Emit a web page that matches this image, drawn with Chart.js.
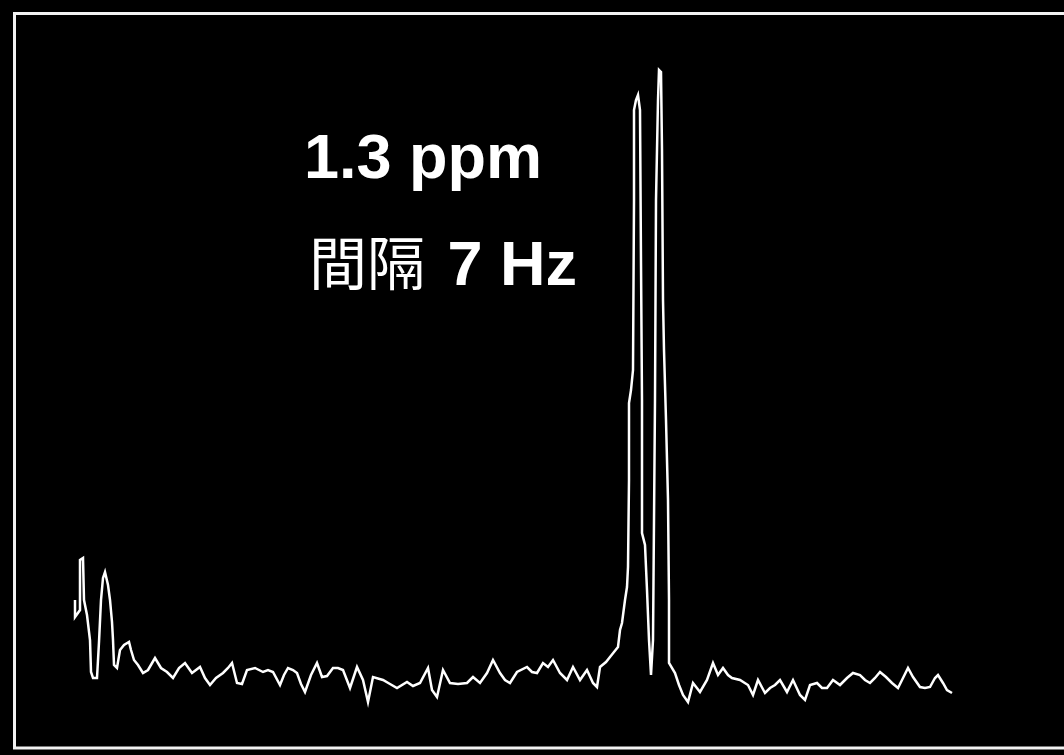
<!DOCTYPE html>
<html lang="zh-Hant">
<head>
    <meta charset="UTF-8">
    <title>1.3 ppm doublet</title>
    <script src="https://cdn.jsdelivr.net/npm/chart.js"></script>
    <style>
        html, body { margin: 0; padding: 0; background: #000; }
        .wrap { position: relative; width: 1064px; height: 755px; overflow: hidden; }
        canvas { position: absolute; left: 0; top: 0; }
        .label {
            position: absolute;
            color: #fff;
            font-family: "Liberation Sans", Arial, sans-serif;
            font-weight: bold;
            font-size: 63px;
            line-height: 63px;
            white-space: nowrap;
        }
        .cjk {
            font-family: "Noto Sans CJK TC", "Noto Sans CJK SC", sans-serif;
            font-weight: normal;
            font-size: 58px;
            line-height: 0;
            margin-right: 5px;
        }
    </style>
</head>
<body>
    <div class="wrap">
        <canvas id="spectrum" width="1064" height="755"></canvas>
        <div class="label" style="left:304px; top:125px;">1.3 ppm</div>
        <div class="label" style="left:309px; top:232px;"><span class="cjk">間隔</span> 7 Hz</div>
    </div>

    <script>
    // spectrum trace (channel number, intensity)
    const channels = [
        1, 1, 6, 6, 9, 10, 13, 16, 17, 19, 23, 24, 25, 27, 29, 31, 34, 36, 38, 39,
        40, 43, 46, 50, 55, 57, 60, 64, 69, 74, 81, 87, 93, 99, 105, 111, 118, 126, 131, 136,
        142, 149, 154, 158, 163, 168, 173, 181, 189, 194, 199, 206, 210, 214, 219, 223, 227, 231, 237, 243,
        248, 253, 259, 264, 269, 276, 283, 289, 294, 299, 309, 316, 323, 333, 339, 346, 354, 358, 363, 369,
        376, 384, 393, 399, 406, 413, 419, 426, 431, 436, 443, 453, 458, 463, 469, 474, 479, 486, 493, 499,
        506, 513, 519, 523, 526, 532, 536, 540, 544, 546, 548, 551, 553, 554, 555, 555, 557, 559, 560, 560,
        562, 564, 566, 567, 568, 568, 571, 573, 575, 577, 579, 580, 581, 582, 584, 585, 587, 588, 589, 590,
        592, 594, 595, 595, 601, 605, 609, 614, 619, 626, 633, 639, 644, 649, 654, 658, 666, 674, 679, 684,
        691, 696, 701, 706, 713, 719, 726, 731, 736, 743, 748, 753, 759, 766, 773, 779, 786, 791, 796, 801,
        806, 812, 818, 824, 829, 834, 839, 846, 851, 856, 861, 864, 869, 873, 878
    ];
    const intensity = [
        100, 83, 90, 140, 142, 100, 85, 60, 28, 22, 22, 40, 58, 100, 122, 128, 115, 100, 78, 60,
        35, 32, 50, 55, 58, 50, 40, 35, 27, 30, 42, 32, 28, 22, 32, 37, 27, 33, 22, 15,
        22, 27, 32, 37, 17, 16, 30, 32, 28, 30, 28, 15, 25, 32, 30, 27, 16, 8, 25, 37,
        23, 24, 32, 32, 30, 12, 33, 20, -2, 23, 20, 16, 12, 18, 14, 17, 32, 10, 3, 30,
        17, 16, 17, 23, 17, 27, 40, 27, 20, 17, 28, 33, 28, 27, 37, 33, 40, 27, 20, 33,
        20, 30, 17, 13, 33, 38, 43, 48, 53, 70, 77, 100, 113, 133, 220, 297, 310, 330, 500, 590,
        600, 605, 590, 437, 300, 167, 155, 110, 60, 25, 60, 180, 300, 500, 600, 630, 628, 550, 400, 350,
        280, 200, 100, 37, 27, 15, 5, -2, 17, 8, 20, 37, 25, 32, 25, 22, 20, 15, 5, 20,
        7, 12, 15, 20, 8, 20, 5, 0, 15, 17, 12, 12, 20, 15, 22, 27, 25, 20, 17, 22,
        28, 23, 17, 12, 22, 32, 23, 13, 12, 13, 22, 25, 17, 10, 7
    ];

    const points = channels.map((c, i) => ({ x: c, y: intensity[i] }));

    // white frame on the left, top and bottom (the right side runs off the picture)
    const framePlugin = {
        id: 'frame',
        afterDraw(chart) {
            const { ctx, chartArea: a } = chart;
            ctx.save();
            ctx.strokeStyle = '#f2f2f2';
            ctx.lineWidth = 3;
            ctx.beginPath();
            ctx.moveTo(chart.width, a.top + 0.5);
            ctx.lineTo(a.left + 0.5, a.top + 0.5);
            ctx.lineTo(a.left + 0.5, a.bottom);
            ctx.lineTo(chart.width, a.bottom);
            ctx.stroke();
            ctx.restore();
        }
    };

    new Chart(document.getElementById('spectrum'), {
        type: 'line',
        data: {
            datasets: [{
                data: points,
                borderColor: '#ffffff',
                borderWidth: 2.5,
                pointRadius: 0,
                tension: 0,
                fill: false
            }]
        },
        options: {
            responsive: false,
            animation: false,
            layout: { padding: { left: 14, top: 13, right: 0, bottom: 7 } },
            plugins: {
                legend: { display: false },
                tooltip: { enabled: false }
            },
            scales: {
                x: { type: 'linear', min: -60, max: 990, display: false },
                y: { min: -48, max: 687, display: false }
            }
        },
        plugins: [framePlugin]
    });
    </script>
</body>
</html>
